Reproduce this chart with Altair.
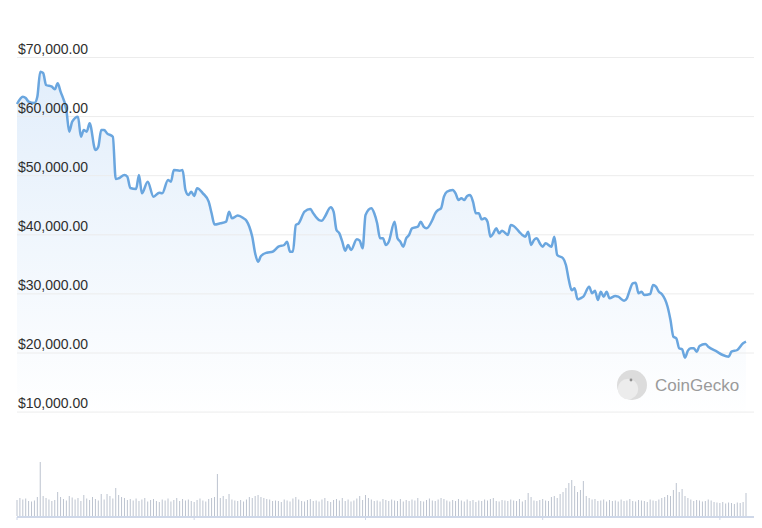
import altair as alt
import pandas as pd

# ---- data ----
START = "2021-11-01"
PRICE_DAY = [0, 2, 3, 4, 6, 7, 8, 9, 10, 12, 13, 14, 15, 17, 18, 19, 21, 22, 23, 24, 25, 27, 28, 29, 30, 31, 33,
             34, 35, 37, 38, 39, 41, 42, 43, 45, 47, 49, 50, 52, 53, 54, 56, 57, 58, 59, 60, 61, 62, 64, 66, 67,
             68, 70, 72, 73, 74, 76, 78, 79, 80, 81, 82, 83, 84, 86, 88, 90, 92, 93, 94, 95, 96, 97, 99, 101,
             102, 104, 105, 106, 108, 109, 110, 111, 112, 113, 114, 115, 117, 118, 119, 120, 122, 123, 124, 125,
             126, 127, 128, 130, 131, 132, 133, 134, 135, 136, 138, 139, 140, 141, 143, 144, 145, 146, 147, 148,
             150, 151, 152, 153, 154, 155, 156, 157, 158, 159, 160, 161, 162, 163, 164, 165, 166, 167, 168, 169,
             170, 171, 173, 174, 175, 176, 177, 178, 179, 180, 181, 182, 184, 185, 186, 188, 189, 190, 191, 192,
             193, 194, 195, 197, 198, 199, 200, 201, 202, 203, 204, 206, 207, 209, 210, 211, 212, 213, 214, 215,
             216, 218, 219, 220, 221, 222, 224, 225, 226, 227, 228, 229, 230, 231, 232, 233, 234, 235, 237, 238,
             241, 243, 245, 246, 248, 250, 251]
PRICE = [62130, 63370, 63150, 62520, 62300, 63370, 67600, 67380, 65350, 65060, 64620, 65630, 64210, 61120, 57450,
         59140, 59980, 56600, 57730, 57450, 58870, 54350, 54910, 57730, 57730, 57175, 56600,
         49440, 49560, 50120, 49830, 47920, 47750, 50120, 47020, 48985, 46450, 47120, 47020, 49270, 48985, 50965,
         50850, 50965, 47580, 46740, 47290, 46570, 47870, 47020, 45600, 43640,
         41740, 41945, 42220, 43910, 42790, 43265, 42790, 42390, 41370, 39680, 36870, 35450, 36410, 36970, 37140,
         37990, 38280, 38830, 37140, 37140, 41660, 41950, 43910, 44370,
         43640, 42500, 42390, 43060, 44650, 43910, 40810, 40250, 38830, 37310, 38280, 37430, 39240, 39000, 37720,
         43350, 44480, 43640, 41950, 39410,
         39410, 38280, 38830, 42220, 39410, 38830, 37990, 39410, 39970, 41100, 41370, 42220, 41370, 41100, 42505,
         43640, 44200, 44480, 46450, 47290,
         47580, 47020, 45890, 46180, 45890, 46570, 46740, 45600, 43640, 43640, 42620, 42790, 42220, 39680, 40250,
         41100, 40250, 40700, 40360, 39970,
         41660, 41490, 40470, 39970, 39680, 40530, 38280, 39120, 39410, 38560, 37990, 38560, 37990, 39680, 36580,
         36030, 34890, 32350, 30610, 30950,
         29090, 29260, 29530, 31220, 30100, 30540, 28970, 30370, 29530, 30370, 29260, 29650, 29530, 28850, 29260,
         30660, 31795, 31900, 30100, 30370,
         29810, 29980, 31510, 31220, 30370, 29980, 27835, 25585, 22760, 22490, 20800, 20630, 19205, 20390, 20800,
         20800, 20220, 21190, 21530, 21070,
         20220, 19660, 19380, 20220, 20510, 21640, 21910]

# daily volume (billions USD), day 0 .. 251
VOLUME = [32, 36, 33, 35, 30, 29, 31, 38, 108, 40,
          36, 33, 30, 32, 48, 38, 34, 31, 40, 37,
          33, 36, 30, 42, 35, 32, 38, 34, 31, 44,
          33, 44, 40, 35, 56, 42, 38, 36, 32, 34,
          31, 35, 30, 33, 36, 29, 32, 34, 30, 28,
          33, 31, 35, 29, 32, 36, 30, 34, 31, 33,
          30, 28, 32, 35, 31, 29, 34, 36, 38, 84,
          36, 40, 34, 44, 33, 31, 30, 32, 29, 33,
          38, 36, 40, 42, 38, 36, 34, 33, 30, 31,
          30, 28, 33, 31, 29, 35, 38, 33, 30, 29,
          32, 34, 30, 31, 29, 33, 36, 30, 28, 32,
          34, 31, 36, 30, 33, 29, 31, 35, 40, 32,
          42, 36, 33, 30, 31, 29, 34, 32, 30, 33,
          31, 30, 34, 29, 32, 30, 33, 31, 36, 30,
          29, 32, 35, 31, 30, 33, 36, 34, 31, 29,
          32, 30, 34, 31, 29, 33, 30, 32, 28, 31,
          30, 33, 31, 34, 36, 30, 29, 32, 31, 30,
          33, 31, 30, 34, 29, 32, 46, 38, 31, 30,
          32, 34, 31, 30, 38, 40, 36, 44, 48, 56,
          66, 72, 60, 48, 52, 70, 40, 36, 33, 34,
          30, 31, 33, 29, 32, 30, 31, 29, 33, 30,
          31, 34, 30, 29, 32, 31, 30, 28, 33, 31,
          30, 33, 36, 38, 42, 40, 52, 66, 48, 54,
          40, 36, 33, 30, 32, 31, 29, 30, 33, 31,
          28, 27, 26, 28, 25, 27, 26, 24, 27, 26,
          28, 46]

TICKS = [10000, 20000, 30000, 40000, 50000, 60000, 70000]
NAV_DATES = ["2021-11-01", "2022-01-01", "2022-03-01", "2022-05-01", "2022-07-01"]

# ---- tables ----
start = pd.Timestamp(START)
def day_str(d):
    return (start + pd.Timedelta(days=d)).strftime("%Y-%m-%d")

price_df = pd.DataFrame({"date": [day_str(d) for d in PRICE_DAY], "price": PRICE})
vol_df = pd.DataFrame({"date": [day_str(d) for d in range(len(VOLUME))], "volume": VOLUME})
tick_df = pd.DataFrame({"v": TICKS, "label": [f"${v:,.2f}" for v in TICKS]})
nav_df = pd.DataFrame({"date": NAV_DATES})

xscale = alt.Scale(domain=[alt.DateTime(year=2021, month=11, date=1, utc=True),
                           alt.DateTime(year=2022, month=7, date=10, utc=True)],
                   range=[9, 738])
pscale = alt.Scale(domain=[0, 80000], range=[463.2, -9.6], nice=False, zero=False)
vscale = alt.Scale(domain=[0, 100], range=[508, 458], nice=False, zero=False)

X = alt.X("date:T", scale=xscale, axis=None)

area = alt.Chart(price_df).transform_calculate(base="9000").mark_area(
    interpolate="monotone",
    color=alt.Gradient(gradient="linear",
                       stops=[alt.GradientStop(color="#e2eefb", offset=0),
                              alt.GradientStop(color="#ffffff", offset=1)],
                       x1=1, x2=1, y1=0, y2=1)
).encode(x=X, y=alt.Y("price:Q", scale=pscale, axis=None), y2="base:Q")

grid = alt.Chart(tick_df).mark_rule(color="#ececec", strokeWidth=1).encode(
    y=alt.Y("v:Q", scale=pscale, axis=None), x=alt.value(9), x2=alt.value(746))

line = alt.Chart(price_df).mark_line(color="#6aa6df", strokeWidth=2.5, interpolate="monotone").encode(
    x=X, y=alt.Y("price:Q", scale=pscale, axis=None))

labels = alt.Chart(tick_df).mark_text(
    align="left", baseline="alphabetic", dy=-4, fontSize=14, font="Liberation Sans", color="#2e2e2e"
).encode(y=alt.Y("v:Q", scale=pscale, axis=None), x=alt.value(10), text="label:N")

vol = alt.Chart(vol_df).transform_calculate(zero="0").mark_rule(color="#bcc3cf", strokeWidth=1).encode(
    x=X, y=alt.Y("volume:Q", scale=vscale, axis=None), y2="zero:Q")

nav_h = alt.Chart(nav_df).mark_rule(color="#cdd6e8", strokeWidth=1).encode(
    x=alt.value(9), x2=alt.value(746), y=alt.value(509))
nav_v = alt.Chart(nav_df).mark_rule(color="#cdd6e8", strokeWidth=1).encode(
    x=X, y=alt.value(509), y2=alt.value(512))

logo_df = pd.DataFrame({"t": ["CoinGecko"]})
logo_outer = alt.Chart(logo_df).mark_circle(color="#dcdcdc", opacity=1, size=900).encode(
    x=alt.value(624), y=alt.value(377))
logo_inner = alt.Chart(logo_df).mark_circle(color="#ececec", opacity=1, size=420).encode(
    x=alt.value(620), y=alt.value(381))
logo_eye = alt.Chart(logo_df).mark_circle(color="#8f8f8f", opacity=1, size=8).encode(
    x=alt.value(623), y=alt.value(372))
logo_text = alt.Chart(logo_df).mark_text(
    align="left", baseline="alphabetic", fontSize=17, font="Liberation Sans", color="#9a9a9a"
).encode(x=alt.value(647), y=alt.value(383), text="t:N")

chart = alt.layer(
    area, grid, line, labels, vol, nav_h, nav_v, logo_outer, logo_inner, logo_eye, logo_text
).resolve_scale(y="independent").properties(
    width=746, height=512, autosize=alt.AutoSizeParams(type="none"), padding=0
).configure_view(stroke=None)

chart.save("out.html", embed_options={"renderer": "svg", "actions": False})
